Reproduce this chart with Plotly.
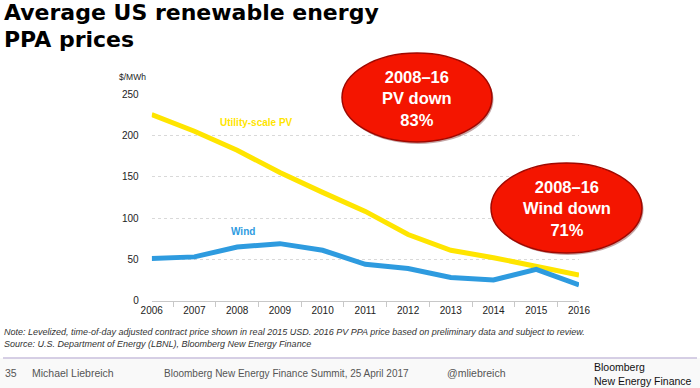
import plotly.graph_objects as go

years = ["2006", "2007", "2008", "2009", "2010", "2011", "2012", "2013", "2014", "2015", "2016"]
pv_prices = [225, 205, 182, 155, 131, 108, 80, 61, 52, 42, 31]
wind_prices = [51, 53, 65, 69, 61, 44, 39, 28, 25, 38, 19]
y_ticks = [0, 50, 100, 150, 200, 250]

W, H = 700, 388
def px(x):
    return x / W
def py(y):
    return 1 - y / H

YELLOW = "#FFE500"
BLUE = "#2E9BDF"
FONT = "Liberation Sans, Arial, sans-serif"
TITLE_FONT = "DejaVu Sans, sans-serif"

fig = go.Figure()
fig.add_trace(go.Scatter(x=years, y=pv_prices, mode="lines",
                         line=dict(color=YELLOW, width=5), hoverinfo="skip", showlegend=False))
fig.add_trace(go.Scatter(x=years, y=wind_prices, mode="lines",
                         line=dict(color=BLUE, width=5), hoverinfo="skip", showlegend=False))

fig.update_layout(
    width=W, height=H,
    margin=dict(l=0, r=0, t=0, b=0, autoexpand=False),
    paper_bgcolor="white", plot_bgcolor="white",
    font=dict(family=FONT, color="#333333"),
    xaxis=dict(domain=[px(151.7), px(579)], type="category",
               tickson="boundaries", ticks="outside", ticklen=5, tickcolor="#c8c8c8",
               showline=True, linecolor="#c8c8c8", linewidth=1,
               showgrid=False, tickfont=dict(size=10, color="#222222"),
               fixedrange=True, automargin=False),
    yaxis=dict(domain=[py(300.7), py(94)], range=[0, 250], tickvals=y_ticks,
               showline=False, showgrid=True, gridcolor="#d9d9d9", griddash="dot",
               gridwidth=1, zeroline=False, ticks="outside", ticklen=10,
               tickcolor="rgba(0,0,0,0)", tickfont=dict(size=10, color="#222222"),
               fixedrange=True, automargin=False),
)

shapes = []
# footer background
shapes.append(dict(type="rect", xref="paper", yref="paper", x0=0, x1=1,
                   y0=0, y1=py(358), fillcolor="#f9f9f9", line=dict(width=0), layer="below"))
# footer separator
shapes.append(dict(type="line", xref="paper", yref="paper", x0=px(3), x1=px(697),
                   y0=py(358), y1=py(358), line=dict(color="#c9bfdc", width=1.5)))
# ellipses
for (x0, y0, x1, y1) in [(342, 53, 492, 142), (491, 163, 642, 253)]:
    shapes.append(dict(type="circle", xref="paper", yref="paper",
                       x0=px(x0 + 1.5), x1=px(x1 + 1.5), y0=py(y1 + 2), y1=py(y0 + 2),
                       fillcolor="rgba(90,0,0,0.35)", line=dict(width=0), layer="above"))
    shapes.append(dict(type="circle", xref="paper", yref="paper",
                       x0=px(x0), x1=px(x1), y0=py(y1), y1=py(y0),
                       fillcolor="#F41500", line=dict(color="#A00800", width=1.5), layer="above"))
fig.update_layout(shapes=shapes)

ann = []
def add(text, x, y, size, color="#222222", bold=False, xanchor="left", yanchor="middle",
        italic=False, align="left", family=FONT):
    t = text
    if bold:
        t = "<b>" + t + "</b>"
    if italic:
        t = "<i>" + t + "</i>"
    ann.append(dict(text=t, x=px(x), y=py(y), xref="paper", yref="paper",
                    xanchor=xanchor, yanchor=yanchor, showarrow=False, align=align,
                    font=dict(size=size, color=color, family=family)))

add("Average US renewable energy", 2, 12, 22, color="#000000", bold=True, family=TITLE_FONT)
add("PPA prices", 2, 40, 22, color="#000000", bold=True, family=TITLE_FONT)
add("$/MWh", 132, 77, 8.5, color="#222222", xanchor="center")
add("Utility-scale PV", 256, 122, 10, color=YELLOW, bold=True, xanchor="center")
add("Wind", 243, 231, 10, color=BLUE, bold=True, xanchor="center")
add("2008–16<br>PV down<br>83%", 417, 98, 16.5, color="white", bold=True, xanchor="center", align="center")
add("2008–16<br>Wind down<br>71%", 566.5, 208, 16.5, color="white", bold=True, xanchor="center", align="center")
add("Note: Levelized, time-of-day adjusted contract price shown in real 2015 USD. 2016 PV PPA price based on preliminary data and subject to review.",
    2, 332, 9, color="#333333", italic=True)
add("Source: U.S. Department of Energy (LBNL), Bloomberg New Energy Finance",
    2, 344, 9, color="#333333", italic=True)
add("35", 3, 373, 10.5, color="#555555")
add("Michael Liebreich", 30, 373, 10.5, color="#555555")
add("Bloomberg New Energy Finance Summit, 25 April 2017", 162, 373, 10, color="#555555")
add("@mliebreich", 445, 373, 10.5, color="#555555")
add("Bloomberg", 592, 367, 10.5, color="#111111")
add("New Energy Finance", 592, 381, 10.5, color="#111111")
fig.update_layout(annotations=ann)

fig.write_html("out.html", post_script="document.body.style.margin='0';",
               config={"displayModeBar": False})
